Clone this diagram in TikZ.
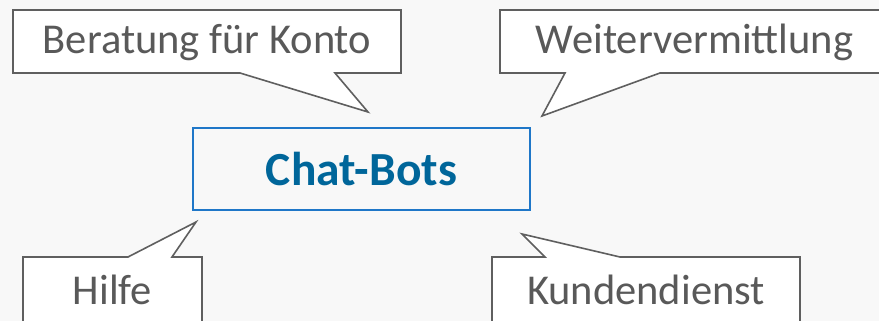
\documentclass[tikz,border=0pt]{standalone}
\usepackage{fontspec}
\setmainfont{Carlito}
\definecolor{pagebg}{HTML}{F8F8F8}
\definecolor{calloutline}{HTML}{5F5F5F}
\definecolor{callouttext}{HTML}{595959}
\definecolor{hubline}{HTML}{1F77C8}
\definecolor{hubtext}{HTML}{00669A}
\tikzset{
  calloutshape/.style={draw=calloutline, fill=white, line width=1.6pt, line join=miter},
  callouttxt/.style={text=callouttext, font=\fontsize{42.5}{48}\selectfont, inner sep=0pt, anchor=center},
  hubbox/.style={draw=hubline, line width=1.8pt, fill=pagebg, minimum width=337pt, minimum height=82pt,
    text=hubtext, font=\fontsize{47.5}{54}\selectfont\bfseries, inner sep=0pt},
}
\begin{document}
\begin{tikzpicture}[x=1pt, y=-1pt]
  % page background and fixed frame
  \fill[pagebg] (0,0) rectangle (879,321);
  \useasboundingbox (0,0) rectangle (879,321);
  \begin{scope}
    \clip (0,0) rectangle (879,321);

    % central topic
    \node[hubbox] (hub) at (361.5,169) {Chat-Bots};

    % speech bubbles pointing at the central topic
    \draw[calloutshape] (13,10) -- (401,10) -- (401,73) -- (335,73) -- (368,112)
      -- (240,73) -- (13,73) -- cycle;
    \node[callouttxt] (konto) at (207,42.5) {Beratung für Konto};

    \draw[calloutshape] (500,10) -- (892,10) -- (892,73) -- (660,73) -- (542,116)
      -- (565,73) -- (500,73) -- cycle;
    \node[callouttxt] (weiter) at (694.5,42.5) {Weitervermittlung};

    \draw[calloutshape] (23,257) -- (128,257) -- (196,222) -- (172,257) -- (202,257)
      -- (202,330) -- (23,330) -- cycle;
    \node[callouttxt] (hilfe) at (112.5,290) {Hilfe};

    \draw[calloutshape] (492,257) -- (545,257) -- (522,234) -- (620,257) -- (800,257)
      -- (800,330) -- (492,330) -- cycle;
    \node[callouttxt] (kunden) at (646,290) {Kundendienst};
  \end{scope}
\end{tikzpicture}
\end{document}
